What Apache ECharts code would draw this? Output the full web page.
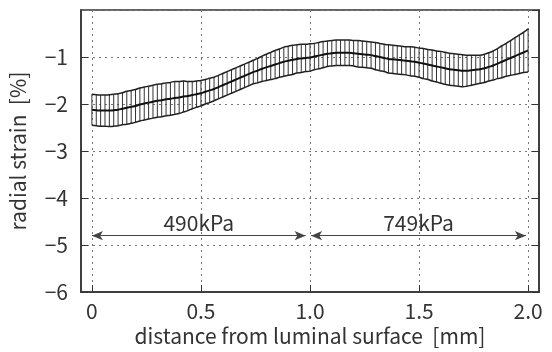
<!DOCTYPE html>
<html><head><meta charset="utf-8">
<script src="https://cdn.jsdelivr.net/npm/echarts@6/dist/echarts.min.js"></script>
<style>html,body{margin:0;padding:0;background:#fff}#c{width:552px;height:352px}</style>
</head><body><div id="c"></div>
<script>
const distance = [0.00,0.02,0.04,0.06,0.08,0.10,0.12,0.14,0.16,0.18,0.20,0.22,0.24,0.26,0.28,0.30,0.32,0.34,0.36,0.38,0.40,0.42,0.44,0.46,0.48,0.50,0.52,0.54,0.56,0.58,0.60,0.62,0.64,0.66,0.68,0.70,0.72,0.74,0.76,0.78,0.80,0.82,0.84,0.86,0.88,0.90,0.92,0.94,0.96,0.98,1.00,1.02,1.04,1.06,1.08,1.10,1.12,1.14,1.16,1.18,1.20,1.22,1.24,1.26,1.28,1.30,1.32,1.34,1.36,1.38,1.40,1.42,1.44,1.46,1.48,1.50,1.52,1.54,1.56,1.58,1.60,1.62,1.64,1.66,1.68,1.70,1.72,1.74,1.76,1.78,1.80,1.82,1.84,1.86,1.88,1.90,1.92,1.94,1.96,1.98,2.00];
const meanStrain = [-2.12,-2.13,-2.14,-2.14,-2.14,-2.13,-2.12,-2.10,-2.08,-2.06,-2.04,-2.01,-1.99,-1.97,-1.95,-1.93,-1.92,-1.90,-1.89,-1.87,-1.86,-1.84,-1.83,-1.81,-1.79,-1.77,-1.74,-1.71,-1.68,-1.64,-1.60,-1.56,-1.52,-1.48,-1.44,-1.40,-1.36,-1.32,-1.29,-1.25,-1.22,-1.19,-1.16,-1.13,-1.10,-1.08,-1.06,-1.04,-1.03,-1.02,-1.01,-0.99,-0.97,-0.95,-0.93,-0.92,-0.91,-0.91,-0.91,-0.91,-0.92,-0.93,-0.94,-0.95,-0.96,-0.98,-1.00,-1.02,-1.04,-1.05,-1.06,-1.07,-1.08,-1.09,-1.10,-1.12,-1.14,-1.16,-1.18,-1.20,-1.22,-1.24,-1.26,-1.27,-1.28,-1.29,-1.29,-1.28,-1.27,-1.26,-1.24,-1.21,-1.18,-1.14,-1.10,-1.06,-1.02,-0.98,-0.94,-0.90,-0.86];
const sdStrain = [0.33,0.33,0.33,0.33,0.34,0.34,0.34,0.34,0.35,0.35,0.35,0.35,0.35,0.35,0.35,0.35,0.35,0.35,0.35,0.35,0.34,0.33,0.31,0.29,0.28,0.27,0.26,0.26,0.25,0.25,0.25,0.25,0.25,0.25,0.25,0.25,0.25,0.25,0.26,0.27,0.28,0.29,0.30,0.30,0.31,0.31,0.31,0.30,0.30,0.29,0.29,0.28,0.28,0.28,0.27,0.27,0.27,0.27,0.27,0.27,0.27,0.28,0.28,0.28,0.28,0.29,0.29,0.29,0.30,0.30,0.30,0.30,0.30,0.31,0.31,0.31,0.32,0.32,0.33,0.33,0.34,0.34,0.34,0.34,0.34,0.34,0.33,0.32,0.31,0.30,0.30,0.30,0.31,0.32,0.34,0.35,0.37,0.39,0.41,0.43,0.46];
const xTicks = [0, 0.5, 1.0, 1.5, 2.0];
const xTickLabels = ['0', '0.5', '1.0', '1.5', '2.0'];
const yTicks = [-6, -5, -4, -3, -2, -1];
const pressureLabels = ['490kPa', '749kPa'];
const pressureRanges = [[0, 0.98], [1.005, 1.99]];
const arrowY = -4.8;

const FONT = '"Noto Sans CJK JP", "Noto Sans", sans-serif';
const TXT = '#333';
const FS = 21;

const meanData = distance.map((d, i) => [d, meanStrain[i]]);
const upperData = distance.map((d, i) => [d, meanStrain[i] + sdStrain[i]]);
const lowerData = distance.map((d, i) => [d, meanStrain[i] - sdStrain[i]]);
const barData = distance.map((d, i) => [d, meanStrain[i] - sdStrain[i], meanStrain[i] + sdStrain[i]]);

const chart = echarts.init(document.getElementById('c'), null, {renderer: 'canvas'});
const gridLine = {show: true, lineStyle: {color: '#777', type: [2, 4], width: 1}};
chart.setOption({
  animation: false,
  backgroundColor: '#fff',
  textStyle: {fontFamily: FONT},
  grid: {left: 77, right: 13, top: 10, bottom: 59, show: true, borderColor: '#333', borderWidth: 1.5, backgroundColor: 'transparent'},
  xAxis: {
    type: 'value', min: -0.05, max: 2.05,
    name: 'distance from luminal surface  [mm]', nameLocation: 'middle', nameGap: 33,
    nameTextStyle: {fontSize: FS, color: TXT, fontFamily: FONT},
    axisLine: {show: true, onZero: false, lineStyle: {color: '#333', width: 1.5}},
    axisTick: {show: true, inside: true, length: 7, customValues: xTicks, lineStyle: {color: '#333'}},
    axisLabel: {customValues: xTicks, fontSize: FS, color: TXT, margin: 8, fontFamily: FONT,
      formatter: v => { const k = xTicks.findIndex(t => Math.abs(t - v) < 1e-6); return k >= 0 ? xTickLabels[k] : ''; }},
    splitLine: gridLine
  },
  yAxis: [{
    type: 'value', min: -6, max: 0, interval: 1,
    name: 'radial strain  [%]', nameLocation: 'middle', nameGap: 52,
    nameTextStyle: {fontSize: FS, color: TXT, fontFamily: FONT},
    axisLine: {show: true, onZero: false, lineStyle: {color: '#333', width: 1.5}},
    axisTick: {show: true, inside: true, length: 7, lineStyle: {color: '#333'}},
    axisLabel: {fontSize: FS, color: TXT, margin: 13, showMaxLabel: false, fontFamily: FONT,
      formatter: v => yTicks.indexOf(v) >= 0 ? '\u2212' + Math.abs(v) : ''},
    splitLine: gridLine
  }, {
    type: 'value', min: -6, max: 0, interval: 1, position: 'right',
    axisLine: {show: true, onZero: false, lineStyle: {color: '#333', width: 1.5}},
    axisTick: {show: true, inside: true, length: 7, lineStyle: {color: '#333'}},
    axisLabel: {show: false}, splitLine: {show: false}
  }],
  series: [
    {
      type: 'custom', data: barData, z: 2,
      encode: {x: 0, y: [1, 2]},
      renderItem: (params, api) => {
        const x = api.value(0);
        const p1 = api.coord([x, api.value(1)]);
        const p2 = api.coord([x, api.value(2)]);
        return {type: 'line', shape: {x1: p1[0], y1: p1[1], x2: p2[0], y2: p2[1]},
          style: {stroke: '#333', lineWidth: 1}};
      }
    },
    {type: 'line', data: upperData, showSymbol: false, smooth: true, lineStyle: {color: '#222', width: 1.5}, z: 3},
    {type: 'line', data: lowerData, showSymbol: false, smooth: true, lineStyle: {color: '#222', width: 1.5}, z: 3},
    {type: 'line', data: meanData, showSymbol: false, smooth: true, lineStyle: {color: '#111', width: 2}, z: 4,
      markLine: {
        silent: true, symbol: ['arrow', 'arrow'], symbolSize: [7, 11],
        lineStyle: {color: '#444', width: 1, type: 'solid'},
        label: {show: true, position: 'insideMiddleTop', fontSize: FS, color: TXT, fontFamily: FONT, distance: 2,
          formatter: p => p.name},
        data: pressureRanges.map((r, i) => [
          {name: pressureLabels[i], coord: [r[0], arrowY]},
          {coord: [r[1], arrowY]}
        ])
      }
    }
  ]
});
</script></body></html>
